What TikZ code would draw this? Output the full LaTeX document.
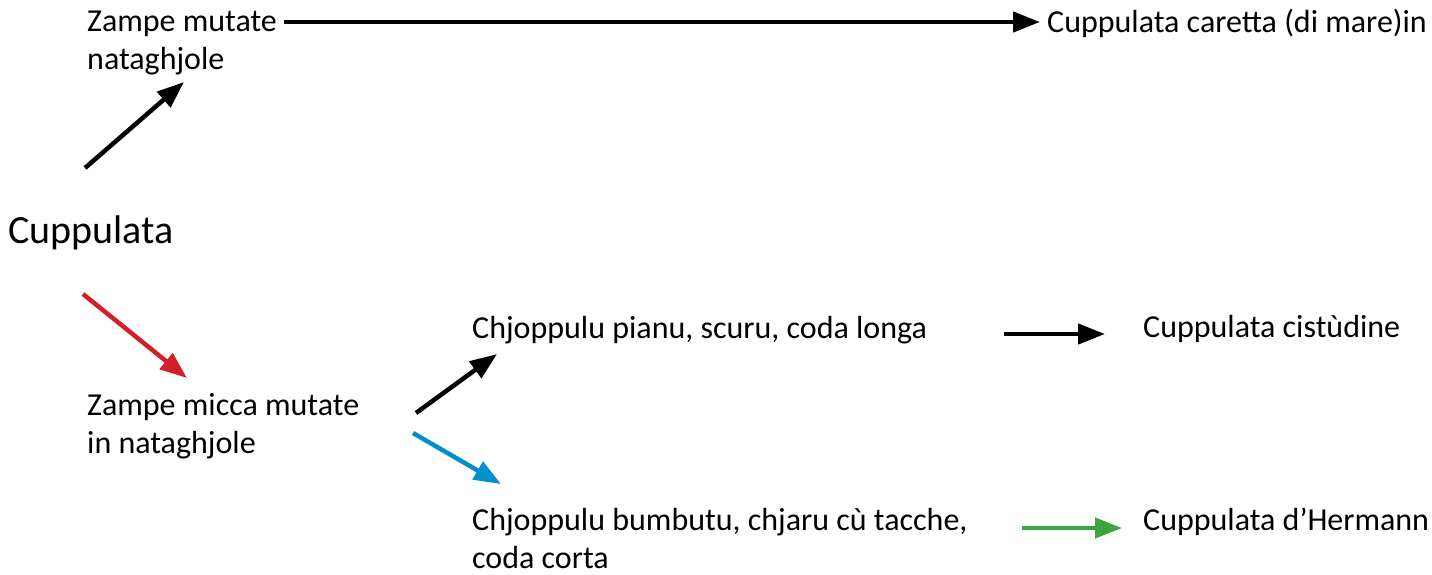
\documentclass[tikz,border=0pt]{standalone}
\usepackage{fontspec}
\setmainfont{Carlito}
\usetikzlibrary{arrows.meta,positioning}
\definecolor{arrowred}{RGB}{208,32,40}
\definecolor{arrowblue}{RGB}{0,144,204}
\definecolor{arrowgreen}{RGB}{60,166,60}
\begin{document}
\begin{tikzpicture}[
  x=1pt, y=-1pt,
  txt/.style={anchor=base west, inner sep=0pt, align=left,
    font=\fontsize{32}{38}\selectfont},
  bigtxt/.style={anchor=base west, inner sep=0pt,
    font=\fontsize{40}{48}\selectfont},
  arrow/.style={-{Triangle[length=27pt, width=20pt]}, line width=4.5pt},
]
\useasboundingbox (0,0) rectangle (1432,574);

% Nodes (base = last line)
\node[txt] (zm) at (87,69) {Zampe mutate\\nataghjole};
\node[txt] (caretta) at (1047,32) {Cuppulata caretta (di mare)in};
\node[bigtxt] (cup) at (8,243) {Cuppulata};
\node[txt] (zmm) at (87,453) {Zampe micca mutate\\in nataghjole};
\node[txt] (pianu) at (472,338) {Chjoppulu pianu, scuru, coda longa};
\node[txt] (bumb) at (472,568) {Chjoppulu bumbutu, chjaru cù tacche,\\coda corta};
\node[txt] (cist) at (1143,337) {Cuppulata cistùdine};
\node[txt] (herm) at (1143,530) {Cuppulata d’Hermann};

% Arrow ends
\coordinate (top-s) at (284,22);
\coordinate (top-e) at (1040,22);
\coordinate (up-s) at (85,168);
\coordinate (up-e) at (184,82);
\coordinate (red-s) at (83,294);
\coordinate (red-e) at (187,378);
\coordinate (pi-s) at (416,413);
\coordinate (pi-e) at (497,354);
\coordinate (bu-s) at (413,433);
\coordinate (bu-e) at (501,484);
\coordinate (ci-s) at (1004,334);
\coordinate (ci-e) at (1105,334);
\coordinate (he-s) at (1022,528);
\coordinate (he-e) at (1122,528);

% Arrows
\draw[arrow] (top-s) -- (top-e);
\draw[arrow] (up-s) -- (up-e);
\draw[arrow, arrowred] (red-s) -- (red-e);
\draw[arrow] (pi-s) -- (pi-e);
\draw[arrow, arrowblue] (bu-s) -- (bu-e);
\draw[arrow] (ci-s) -- (ci-e);
\draw[arrow, arrowgreen] (he-s) -- (he-e);

\end{tikzpicture}
\end{document}
